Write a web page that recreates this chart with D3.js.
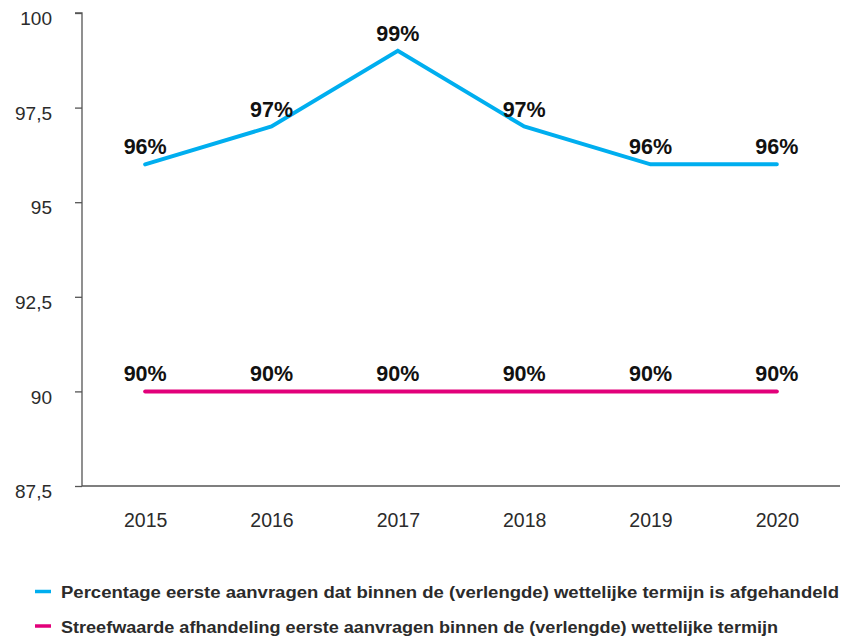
<!DOCTYPE html>
<html><head><meta charset="utf-8">
<script src="https://cdn.jsdelivr.net/npm/d3@7"></script>
<style>body{margin:0;background:#fff;} svg{display:block;}</style>
</head><body>
<svg id="chart" width="841" height="640"></svg>
<script>
const years = ["2015","2016","2017","2018","2019","2020"];
const afgehandeld = [96, 97, 99, 97, 96, 96];
const streefwaarde = [90, 90, 90, 90, 90, 90];
const yTicks = [87.5, 90, 92.5, 95, 97.5, 100];
const seriesNames = [
  "Percentage eerste aanvragen dat binnen de (verlengde) wettelijke termijn is afgehandeld",
  "Streefwaarde afhandeling eerste aanvragen binnen de (verlengde) wettelijke termijn"
];
const colors = ["#00aeef", "#e2007a"];

const svg = d3.select("#chart");
const mLeft = 82, mRight = 840, mTop = 13, mBottom = 486;
const x = d3.scalePoint().domain(years).range([mLeft, mRight]).padding(0.5);
const y = d3.scaleLinear().domain([87.5, 100]).range([mBottom, mTop]);
const fmt = d => String(d).replace(".", ",");

const yAxis = svg.append("g").attr("transform", `translate(${mLeft},0)`)
  .call(d3.axisLeft(y).tickValues(yTicks).tickFormat(fmt).tickSize(7).tickPadding(23));
yAxis.select(".domain").attr("stroke", "#555").attr("stroke-width", 1.3).attr("d", `M-7,${mTop}H0V${mBottom}`);
yAxis.selectAll(".tick line").attr("stroke", "#555").attr("stroke-width", 1.3);
yAxis.selectAll("text").attr("font-family", "Liberation Sans, Arial, sans-serif").attr("font-size", 19).attr("fill", "#2b2b2b").attr("dy", "0.62em");

const xAxis = svg.append("g").attr("transform", `translate(0,${mBottom})`)
  .call(d3.axisBottom(x).tickSize(0).tickPadding(27));
xAxis.select(".domain").attr("stroke", "#555").attr("stroke-width", 1.3).attr("d", `M${mLeft},0H${mRight}`);
xAxis.selectAll("text").attr("font-family", "Liberation Sans, Arial, sans-serif").attr("font-size", 19.5).attr("fill", "#2b2b2b");

const data = [afgehandeld, streefwaarde];
const line = d3.line().x((d, i) => x(years[i])).y(d => y(d));
data.forEach((vals, si) => {
  svg.append("path").attr("d", line(vals)).attr("fill", "none")
    .attr("stroke", colors[si]).attr("stroke-width", 4).attr("stroke-linecap", "round").attr("stroke-linejoin", "miter");
  svg.append("g").selectAll("text").data(vals).join("text")
    .attr("x", (d, i) => x(years[i]))
    .attr("y", d => y(d) - 10)
    .attr("text-anchor", "middle")
    .attr("font-family", "Liberation Sans, Arial, sans-serif")
    .attr("font-weight", "bold").attr("font-size", 21.5).attr("fill", "#111")
    .text(d => d + "%");
});

const leg = svg.append("g");
seriesNames.forEach((name, i) => {
  const yy = 591.5 + i * 34.5;
  leg.append("line").attr("x1", 35).attr("x2", 51).attr("y1", yy).attr("y2", yy)
    .attr("stroke", colors[i]).attr("stroke-width", 3.5);
  leg.append("text").attr("x", 61).attr("y", yy + 6.5)
    .attr("font-family", "Liberation Sans Narrow, Liberation Sans, Arial, sans-serif")
    .attr("font-weight", "bold").attr("font-size", 16).attr("fill", "#2b2b2b")
    .attr("textLength", i === 0 ? 778 : 717).attr("lengthAdjust", "spacingAndGlyphs")
    .text(name);
});
</script>
</body></html>
